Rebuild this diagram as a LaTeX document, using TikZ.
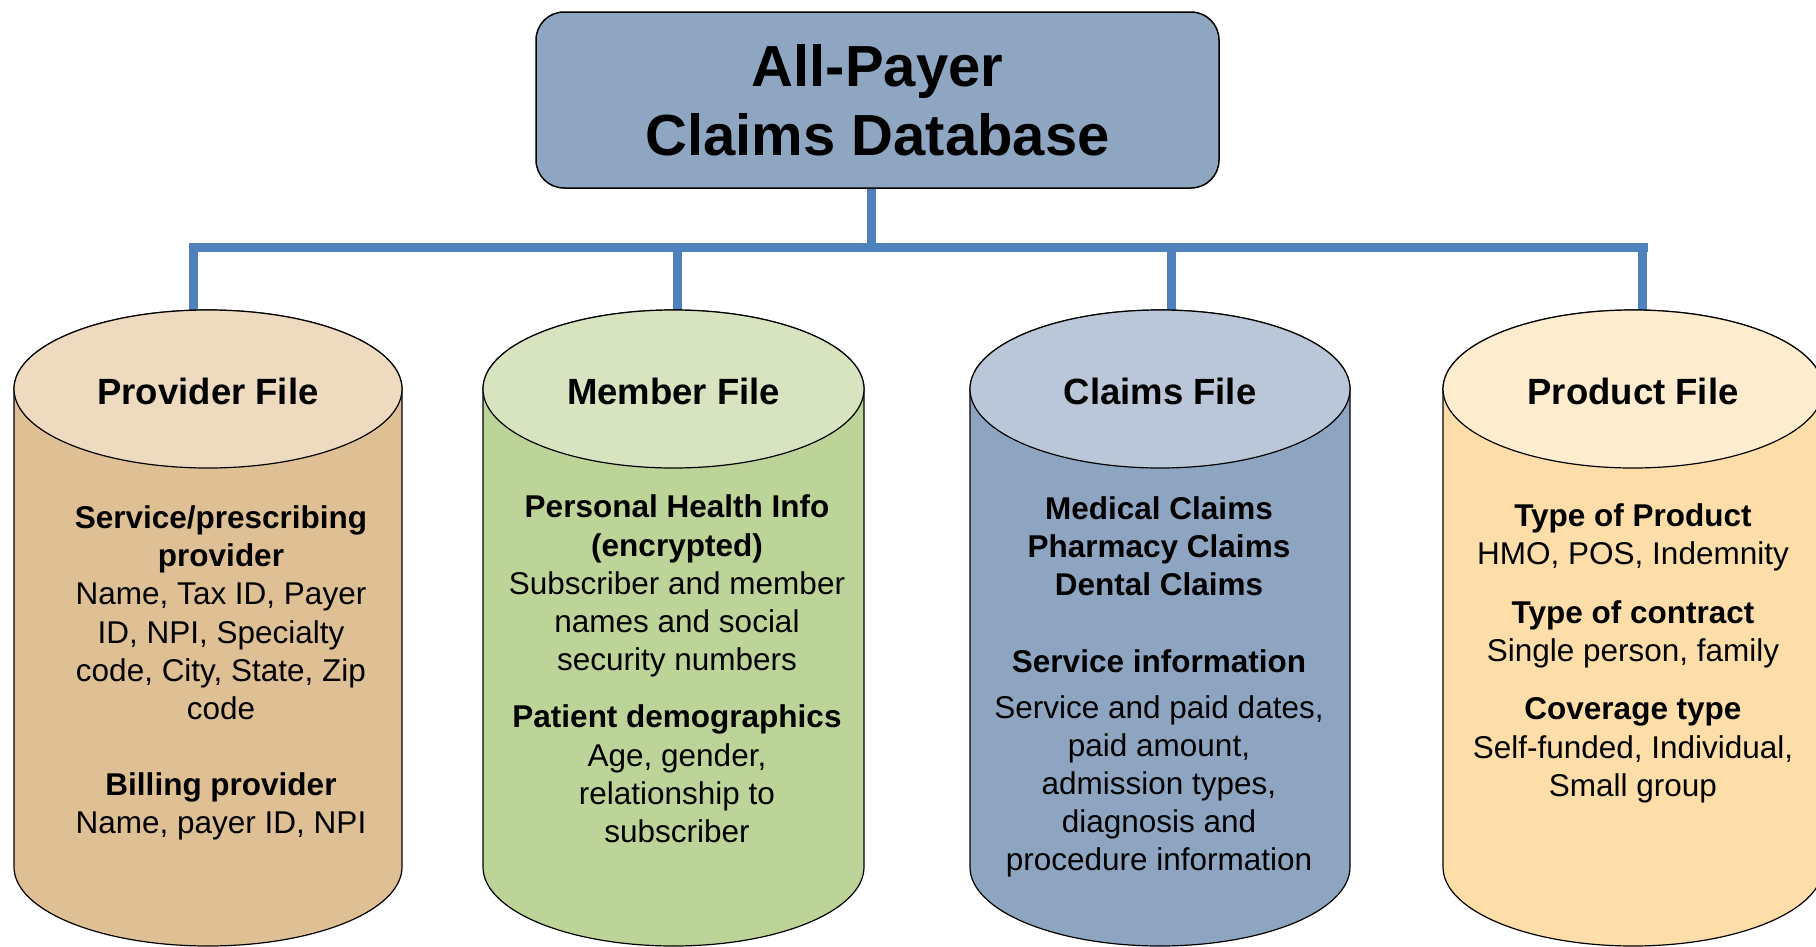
\documentclass[tikz,border=0pt]{standalone}
\usepackage{fontspec}
\setmainfont{Liberation Sans}

\definecolor{dbblue}{RGB}{142,166,194}
\definecolor{busblue}{RGB}{79,129,189}
\definecolor{provbody}{RGB}{223,191,148}
\definecolor{provtopc}{RGB}{237,218,191}
\definecolor{membbody}{RGB}{189,212,152}
\definecolor{membtopc}{RGB}{215,228,191}
\definecolor{claimbody}{RGB}{142,165,194}
\definecolor{claimtopc}{RGB}{186,199,216}
\definecolor{prodbody}{RGB}{253,221,168}
\definecolor{prodtopc}{RGB}{253,236,206}

\tikzset{
  dbbox/.style={draw, line width=1.5pt, rounded corners=28pt, fill=dbblue,
    minimum width=683pt, minimum height=176pt, align=center,
    font=\bfseries\fontsize{58}{69}\selectfont},
  bus/.style={busblue, line width=9pt},
  filetitle/.style={font=\bfseries\fontsize{36.5}{44}\selectfont, inner sep=0pt},
  filetext/.style={align=center, font=\fontsize{31.5}{38.2}\selectfont, inner sep=0pt},
}

% cylinder: centre x, x radius, body colour, top colour
\newcommand{\filecyl}[4]{%
  \filldraw[fill=#3, line width=1.2pt] (#1-#2,-389) -- (#1-#2,-867)
    arc[start angle=180, end angle=360, x radius=#2, y radius=79] -- (#1+#2,-389)
    arc[start angle=0, end angle=180, x radius=#2, y radius=79] -- cycle;
  \filldraw[fill=#4, line width=1.2pt] (#1,-389) ellipse[x radius=#2, y radius=79];
}

\begin{document}
\begin{tikzpicture}[x=1pt,y=1pt]
  \useasboundingbox (0,0) rectangle (1816,-946);

  \node[dbbox] (db) at (877.5,-100) {All-Payer\\Claims Database};

  % bus and drops
  \coordinate (busl) at (189,-247);
  \coordinate (busr) at (1648,-247);
  \coordinate (dbfoot) at ([xshift=-6pt]db.south);
  \coordinate (provtop) at (193,-312);
  \coordinate (membtop) at (677,-312);
  \coordinate (claimtop) at (1171,-312);
  \coordinate (prodtop) at (1642,-312);
  \draw[bus] (busl) -- (busr);
  \draw[bus] (dbfoot) -- (dbfoot |- busl);
  \foreach \c in {provtop,membtop,claimtop,prodtop}
    \draw[bus] (\c) -- (\c |- busl);

  % cylinders
  \filecyl{208}{194}{provbody}{provtopc}
  \filecyl{673.5}{190.5}{membbody}{membtopc}
  \filecyl{1160}{190}{claimbody}{claimtopc}
  \filecyl{1633}{190}{prodbody}{prodtopc}

  \node[filetitle] (prov) at (208,-391) {Provider File};
  \node[filetitle] (memb) at (673.5,-391) {Member File};
  \node[filetitle] (claim) at (1160,-391) {Claims File};
  \node[filetitle] (prod) at (1633,-391) {Product File};

  \node[filetext] (provtxt) at (221,-673) {\textbf{Service/prescribing}\\\textbf{provider}\\
    Name, Tax ID, Payer\\ID, NPI, Specialty\\code, City, State, Zip\\code\\[38pt]
    \textbf{Billing provider}\\Name, payer ID, NPI};
  \node[filetext] (membtxt) at (677,-669) {\textbf{Personal Health Info}\\\textbf{(encrypted)}\\
    Subscriber and member\\names and social\\security numbers\\[19pt]
    \textbf{Patient demographics}\\Age, gender,\\relationship to\\subscriber};
  \node[filetext] (claimtxt) at (1159,-687) {\textbf{Medical Claims}\\\textbf{Pharmacy Claims}\\
    \textbf{Dental Claims}\\[39pt]\textbf{Service information}\\[7pt]
    Service and paid dates,\\paid amount,\\admission types,\\diagnosis and\\procedure information};
  \node[filetext] (prodtxt) at (1633,-653) {\textbf{Type of Product}\\HMO, POS, Indemnity\\[21pt]
    \textbf{Type of contract}\\Single person, family\\[20pt]
    \textbf{Coverage type}\\Self-funded, Individual,\\Small group};
\end{tikzpicture}
\end{document}
